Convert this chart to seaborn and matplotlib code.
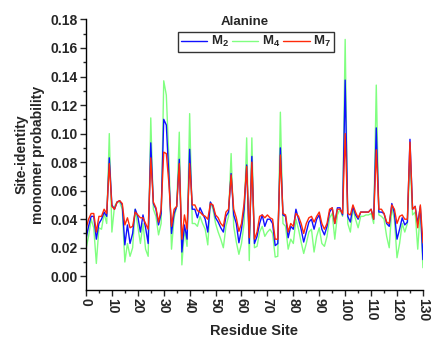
import numpy as np
import pandas as pd
import matplotlib
matplotlib.use("Agg")
import matplotlib.pyplot as plt
import seaborn as sns
from matplotlib.ticker import MultipleLocator, FormatStrFormatter

residue = list(range(0, 131))

m2 = [0.026, 0.035, 0.042, 0.042, 0.026, 0.037, 0.040, 0.045, 0.042, 0.083,
      0.050, 0.047, 0.052, 0.053, 0.050, 0.022, 0.036, 0.023, 0.030, 0.047,
      0.042, 0.031, 0.043, 0.034, 0.023, 0.0935, 0.051, 0.047, 0.036, 0.044,
      0.110, 0.106, 0.070, 0.030, 0.044, 0.049, 0.082, 0.017, 0.036, 0.026,
      0.089, 0.047, 0.047, 0.041, 0.048, 0.044, 0.040, 0.031, 0.052, 0.049,
      0.041, 0.038, 0.034, 0.031, 0.042, 0.045, 0.072, 0.043, 0.037, 0.0235,
      0.033, 0.047, 0.078, 0.023, 0.084, 0.023, 0.028, 0.037, 0.043, 0.035,
      0.040, 0.040, 0.037, 0.0215, 0.023, 0.090, 0.043, 0.042, 0.027, 0.035,
      0.033, 0.047, 0.040, 0.033, 0.024, 0.031, 0.038, 0.040, 0.033, 0.040,
      0.043, 0.033, 0.029, 0.035, 0.045, 0.048, 0.037, 0.048, 0.048, 0.043,
      0.1375, 0.042, 0.038, 0.049, 0.043, 0.040, 0.045, 0.045, 0.045, 0.045,
      0.047, 0.040, 0.104, 0.045, 0.045, 0.044, 0.037, 0.035, 0.051, 0.044,
      0.026, 0.033, 0.041, 0.036, 0.038, 0.096, 0.047, 0.049, 0.037, 0.049,
      0.0117]

m4 = [0.019, 0.028, 0.040, 0.034, 0.009, 0.034, 0.033, 0.044, 0.037, 0.100,
      0.031, 0.049, 0.052, 0.052, 0.047, 0.010, 0.023, 0.014, 0.020, 0.047,
      0.035, 0.023, 0.037, 0.019, 0.014, 0.111, 0.047, 0.042, 0.029, 0.037,
      0.137, 0.127, 0.082, 0.019, 0.041, 0.049, 0.101, 0.008, 0.033, 0.021,
      0.114, 0.037, 0.037, 0.035, 0.042, 0.037, 0.033, 0.022, 0.052, 0.047,
      0.037, 0.031, 0.026, 0.020, 0.035, 0.042, 0.086, 0.035, 0.024, 0.0154,
      0.023, 0.037, 0.097, 0.011, 0.097, 0.020, 0.021, 0.031, 0.035, 0.028,
      0.031, 0.033, 0.030, 0.0135, 0.014, 0.115, 0.037, 0.035, 0.019, 0.026,
      0.023, 0.040, 0.033, 0.024, 0.016, 0.023, 0.031, 0.033, 0.017, 0.028,
      0.034, 0.023, 0.021, 0.028, 0.041, 0.044, 0.026, 0.043, 0.047, 0.042,
      0.166, 0.037, 0.031, 0.047, 0.040, 0.034, 0.042, 0.042, 0.043, 0.043,
      0.044, 0.037, 0.134, 0.043, 0.042, 0.040, 0.028, 0.020, 0.048, 0.040,
      0.013, 0.023, 0.037, 0.031, 0.037, 0.082, 0.043, 0.045, 0.019, 0.047,
      0.006]

m7 = [0.033, 0.040, 0.044, 0.044, 0.031, 0.042, 0.042, 0.047, 0.044, 0.079,
      0.049, 0.047, 0.052, 0.053, 0.051, 0.036, 0.041, 0.034, 0.035, 0.045,
      0.043, 0.041, 0.041, 0.037, 0.033, 0.083, 0.052, 0.048, 0.038, 0.047,
      0.087, 0.086, 0.065, 0.035, 0.047, 0.049, 0.079, 0.026, 0.043, 0.033,
      0.079, 0.050, 0.050, 0.046, 0.045, 0.043, 0.042, 0.040, 0.051, 0.050,
      0.043, 0.041, 0.037, 0.035, 0.045, 0.047, 0.071, 0.047, 0.041, 0.0315,
      0.037, 0.051, 0.077, 0.027, 0.080, 0.026, 0.031, 0.042, 0.043, 0.041,
      0.043, 0.041, 0.040, 0.026, 0.026, 0.085, 0.044, 0.043, 0.031, 0.037,
      0.035, 0.044, 0.042, 0.037, 0.030, 0.037, 0.041, 0.042, 0.038, 0.042,
      0.045, 0.037, 0.033, 0.037, 0.047, 0.048, 0.037, 0.047, 0.047, 0.044,
      0.100, 0.044, 0.043, 0.050, 0.045, 0.041, 0.045, 0.045, 0.045, 0.045,
      0.047, 0.040, 0.0886, 0.047, 0.047, 0.044, 0.038, 0.037, 0.050, 0.047,
      0.037, 0.042, 0.043, 0.040, 0.040, 0.094, 0.047, 0.049, 0.034, 0.050,
      0.0235]

series_names = ["M$_\\mathbf{2}$", "M$_\\mathbf{4}$", "M$_\\mathbf{7}$"]
series_colors = ["#1010ff", "#80ff80", "#ff2a0a"]
x_ticks = list(range(0, 131, 10))
y_ticks = [0.00, 0.02, 0.04, 0.06, 0.08, 0.10, 0.12, 0.14, 0.16, 0.18]

sns.set_style("ticks")
plt.rcParams['font.family'] = ['Liberation Sans', 'DejaVu Sans']
plt.rcParams['font.weight'] = 'bold'
plt.rcParams['mathtext.fontset'] = 'custom'
plt.rcParams['mathtext.rm'] = 'Liberation Sans:bold'
plt.rcParams['mathtext.bf'] = 'Liberation Sans:bold'
plt.rcParams['mathtext.it'] = 'Liberation Sans:bold'

df = pd.DataFrame({
    "Residue": residue * 3,
    "Prob": m2 + m4 + m7,
    "Series": [series_names[0]] * len(m2) + [series_names[1]] * len(m4) + [series_names[2]] * len(m7),
})

fig = plt.figure(figsize=(4.32, 3.41), dpi=100)
ax = fig.add_axes([0.199, 0.150, 0.780, 0.793])

pal = dict(zip(series_names, series_colors))
# draw order: M4 (green) behind, then M2, then M7 on top
for name in [series_names[1], series_names[0], series_names[2]]:
    sns.lineplot(data=df[df["Series"] == name], x="Residue", y="Prob",
                 color=pal[name], lw=1.0, ax=ax, label=name, legend=False)

ax.set_xlim(0, 130)
ax.set_ylim(-0.0095, 0.18)
ax.set_xticks(x_ticks)
ax.set_yticks(y_ticks)
ax.xaxis.set_minor_locator(MultipleLocator(5))
ax.yaxis.set_minor_locator(MultipleLocator(0.01))
ax.yaxis.set_major_formatter(FormatStrFormatter('%.2f'))
ax.tick_params(axis='both', which='major', direction='out', length=4, width=1.0,
               labelsize=10, pad=2)
ax.tick_params(axis='both', which='minor', direction='out', length=2, width=1.0)
for lbl in ax.get_xticklabels():
    lbl.set_rotation(-90)
    lbl.set_fontweight('bold')
for lbl in ax.get_yticklabels():
    lbl.set_fontweight('bold')

for s in ['top', 'right']:
    ax.spines[s].set_visible(False)
for s in ['left', 'bottom']:
    ax.spines[s].set_linewidth(1.0)
    ax.spines[s].set_color('black')

ax.set_xlabel("Residue Site", fontsize=10.5, fontweight='bold', labelpad=2)
ax.set_ylabel("Site-identity\nmonomer probability", fontsize=10, fontweight='bold', labelpad=4)

handles, labels = ax.get_legend_handles_labels()
order = [labels.index(n) for n in series_names]
leg = ax.legend([handles[i] for i in order], [labels[i] for i in order],
                loc='upper center', bbox_to_anchor=(0.505, 0.955), ncol=3,
                fontsize=9.5, frameon=True, fancybox=False, edgecolor='black',
                handlelength=2.0, handletextpad=0.3, columnspacing=0.2,
                borderpad=0.2, borderaxespad=0)
leg.get_frame().set_linewidth(1.0)
for t in leg.get_texts():
    t.set_fontweight('bold')

ax.text(0.47, 0.99, "Alanine", transform=ax.transAxes, ha='center', va='center',
        fontsize=9.5, fontweight='bold')

fig.savefig("out.png", dpi=100)
